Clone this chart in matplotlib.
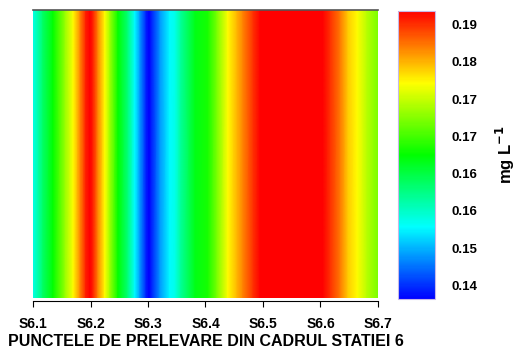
import numpy as np
import matplotlib
matplotlib.use("Agg")
import matplotlib.pyplot as plt
from matplotlib.colors import LinearSegmentedColormap
from matplotlib.ticker import FormatStrFormatter

plt.rcParams['font.family'] = ['Liberation Sans', 'DejaVu Sans']
plt.rcParams['font.weight'] = 'bold'

# positions along the transect (S6.1 .. S6.7) and concentration, mg/L
pos = [6.100, 6.117, 6.135, 6.156, 6.170, 6.182, 6.192, 6.199, 6.204, 6.213,
       6.225, 6.234, 6.248, 6.265, 6.277, 6.286, 6.297, 6.302, 6.305, 6.321,
       6.338, 6.347, 6.357, 6.382, 6.404, 6.420, 6.439, 6.455, 6.465, 6.483,
       6.495, 6.525, 6.550, 6.575, 6.604, 6.617, 6.634, 6.648, 6.664, 6.681,
       6.700]
conc = [0.1543, 0.1605, 0.1653, 0.1725, 0.1773, 0.1831, 0.1879, 0.1900, 0.1879, 0.1831,
        0.1773, 0.1725, 0.1653, 0.1595, 0.1533, 0.1485, 0.1427, 0.1410, 0.1423, 0.1485,
        0.1533, 0.1543, 0.1581, 0.1643, 0.1663, 0.1711, 0.1773, 0.1807, 0.1831, 0.1869,
        0.1893, 0.1935, 0.1945, 0.1930, 0.1893, 0.1869, 0.1835, 0.1797, 0.1773, 0.1739,
        0.1711]

stations = [6.1, 6.2, 6.3, 6.4, 6.5, 6.6, 6.7]
station_labels = ["S6.1", "S6.2", "S6.3", "S6.4", "S6.5", "S6.6", "S6.7"]
cbar_ticks = [0.1436, 0.1498, 0.1560, 0.1622, 0.1684, 0.1746, 0.1808, 0.1870]

vmin, vmax = 0.1413, 0.1893

cmap = LinearSegmentedColormap.from_list(
    "bcgyr", ["#0000ff", "#00ffff", "#00ff00", "#ffff00", "#ff0000"])

fig = plt.figure(figsize=(5.19, 3.51), dpi=100)
ax = fig.add_axes([0.0636, 0.151, 0.6647, 0.8205])
cax = fig.add_axes([0.767, 0.148, 0.071, 0.821])

X = np.array(pos)
Y = np.array([0.0, 1.0])
C = np.vstack([conc, conc])
mesh = ax.pcolormesh(X, Y, C, shading='gouraud', cmap=cmap, vmin=vmin, vmax=vmax)

ax.set_xlim(6.1, 6.7)
ax.set_ylim(0, 1)
ax.set_yticks([])
ax.set_xticks(stations)
ax.set_xticklabels(station_labels, fontsize=10, fontweight='bold')
ax.tick_params(axis='x', direction='out', length=4, width=0.8, pad=8)
ax.spines['left'].set_visible(False)
ax.spines['right'].set_visible(False)
ax.spines['top'].set_color('#555555')
ax.spines['top'].set_linewidth(1.2)
ax.spines['bottom'].set_position(('outward', 2))
ax.set_xlabel("PUNCTELE DE PRELEVARE DIN CADRUL STATIEI 6",
              fontsize=11.5, fontweight='bold', labelpad=2)

cb = fig.colorbar(mesh, cax=cax)
cb.set_ticks(cbar_ticks)
cb.ax.yaxis.set_major_formatter(FormatStrFormatter('%.2f'))
cb.ax.tick_params(length=0, pad=12, labelsize=9.5)
for t in cb.ax.get_yticklabels():
    t.set_fontweight('bold')
cb.outline.set_edgecolor('#c8b8e8')
cb.outline.set_linewidth(0.8)
cb.set_label(r"mg L$^{\mathbf{-1}}$", fontsize=12, fontweight='bold', labelpad=12)

fig.savefig("out.png", dpi=100)
